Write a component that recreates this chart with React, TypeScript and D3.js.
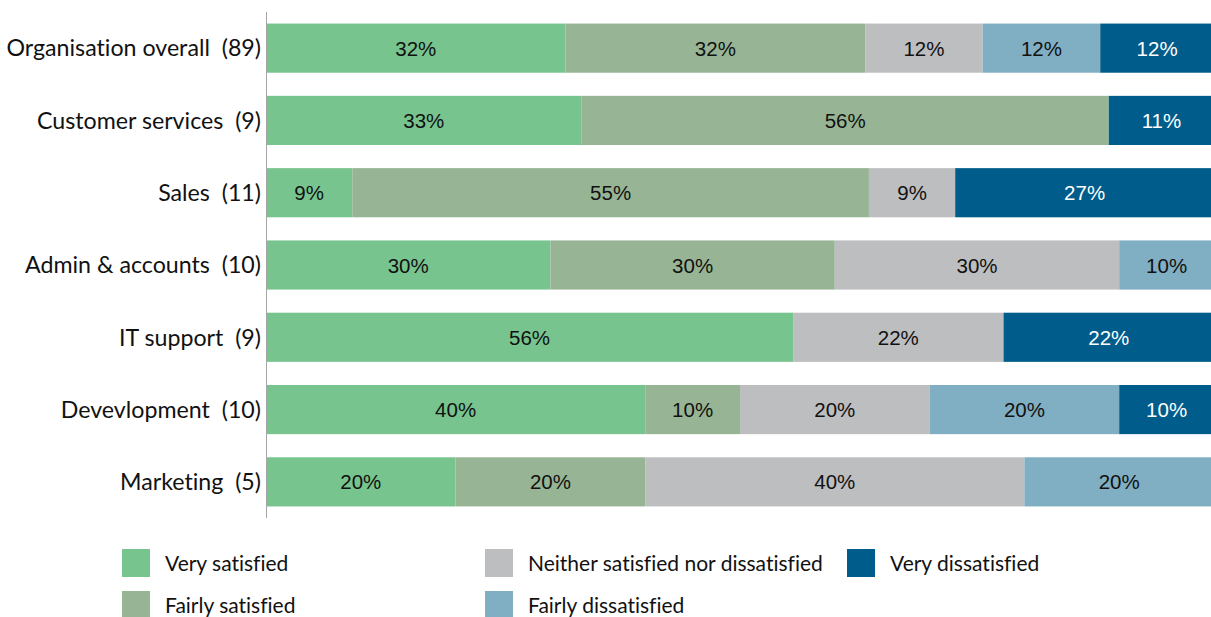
import React from "react";
import * as d3 from "d3";

const categories = [
  "Organisation overall  (89)",
  "Customer services  (9)",
  "Sales  (11)",
  "Admin & accounts  (10)",
  "IT support  (9)",
  "Devevlopment  (10)",
  "Marketing  (5)",
];

const seriesNames = [
  "Very satisfied",
  "Fairly satisfied",
  "Neither satisfied nor dissatisfied",
  "Fairly dissatisfied",
  "Very dissatisfied",
];

const verySatisfied = [31.6, 33.3, 9.1, 30, 55.6, 40, 20];
const fairlySatisfied = [31.6, 55.6, 54.5, 30, 0, 10, 20];
const neither = [12.4, 0, 9.1, 30, 22.2, 20, 40];
const fairlyDissatisfied = [12.4, 0, 0, 10, 0, 20, 20];
const veryDissatisfied = [12.0, 11.1, 27.3, 0, 22.2, 10, 0];

const colors = ["#77C48E", "#97B595", "#BDBEC0", "#80AEC2", "#005C8A"];
const labelColors = ["#111", "#111", "#111", "#111", "#fff"];

const W = 1211;
const H = 617;

export default function App() {
  const seriesValues = [verySatisfied, fairlySatisfied, neither, fairlyDissatisfied, veryDissatisfied];
  const rows = categories.map((c, i) => {
    const r: any = { cat: c };
    seriesNames.forEach((s, j) => (r[s] = seriesValues[j][i]));
    return r;
  });
  const stacked = d3.stack<any>().keys(seriesNames)(rows);

  const x = d3.scaleLinear().domain([0, 100]).range([266, 1214]);
  const y = d3.scaleBand().domain(categories).range([12, 518]).paddingInner(0.32).paddingOuter(0.16);

  const legendPos = [
    [122, 549],
    [122, 591],
    [485, 549],
    [485, 591],
    [847, 549],
  ];

  return (
    <div style={{ position: "absolute", left: 0, top: 0 }}>
      <svg width={W} height={H} style={{ display: "block", background: "#fff" }}>
        {stacked.map((layer, j) => (
          <g key={layer.key}>
            {layer.map((d, i) => {
              const w = x(d[1]) - x(d[0]);
              if (w <= 0) return null;
              return (
                <g key={i}>
                  <rect
                    x={x(d[0])}
                    y={y(categories[i])}
                    width={w}
                    height={y.bandwidth()}
                    fill={colors[j]}
                  />
                  <text
                    x={(x(d[0]) + x(d[1])) / 2}
                    y={(y(categories[i]) as number) + y.bandwidth() / 2}
                    dy="0.37em"
                    textAnchor="middle"
                    fontFamily="'Liberation Sans', Arial, sans-serif"
                    fontSize={20.5}
                    fill={labelColors[j]}
                  >
                    {`${Math.round(d[1] - d[0])}%`}
                  </text>
                </g>
              );
            })}
          </g>
        ))}
        <line x1={266.5} x2={266.5} y1={12} y2={518} stroke="#A6A6A6" strokeWidth={1} />
        {categories.map((c) => (
          <text
            key={c}
            x={261}
            y={(y(c) as number) + y.bandwidth() / 2}
            dy="0.36em"
            textAnchor="end"
            fontFamily="Lato, 'Open Sans', sans-serif"
            fontSize={23.2}
            fill="#111"
            style={{ whiteSpace: "pre", fontVariantLigatures: "none" }}
          >
            {c}
          </text>
        ))}
        {seriesNames.map((s, j) => (
          <g key={s} transform={`translate(${legendPos[j][0]},${legendPos[j][1]})`}>
            <rect width={28} height={28} fill={colors[j]} />
            <text
              x={43}
              y={14}
              dy="0.36em"
              fontFamily="Lato, 'Open Sans', sans-serif"
              fontSize={21}
              fill="#111"
              style={{ fontVariantLigatures: "none" }}
            >
              {s}
            </text>
          </g>
        ))}
      </svg>
    </div>
  );
}
